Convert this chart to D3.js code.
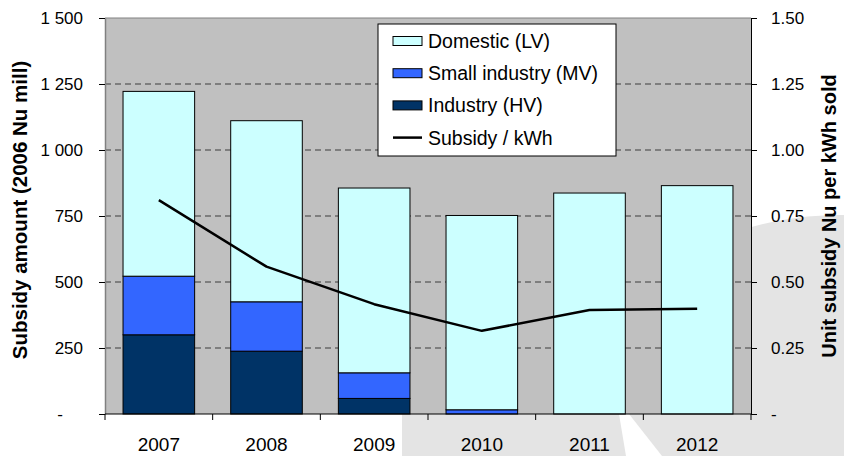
<!DOCTYPE html>
<html>
<head>
<meta charset="utf-8">
<script src="https://cdn.jsdelivr.net/npm/d3@7"></script>
<style>
  body { margin: 0; background: #fff; }
  svg { display: block; font-family: "Liberation Sans", Arial, sans-serif; }
</style>
</head>
<body>
<div class="graph"></div>
<script>
// chart values
var years = ['2007', '2008', '2009', '2010', '2011', '2012']
var industryHV = [300, 238, 59, 0, 0, 0]
var smallIndustryMV = [222, 187, 97, 16, 0, 0]
var domesticLV = [700, 686, 700, 736, 837, 865]
var subsidyPerKwh = [0.81, 0.558, 0.416, 0.315, 0.394, 0.399]
var leftTicks = [0, 250, 500, 750, 1000, 1250, 1500]
var rightTicks = [0, 0.25, 0.5, 0.75, 1.0, 1.25, 1.5]

var series = [
    {key: 'hv', name: 'Industry (HV)', color: '#003366', values: industryHV},
    {key: 'mv', name: 'Small industry (MV)', color: '#3366ff', values: smallIndustryMV},
    {key: 'lv', name: 'Domestic (LV)', color: '#ccffff', values: domesticLV}
]

var width = 844,
    height = 456
var plot = {left: 105, right: 751, top: 18, bottom: 414}

var svg = d3.select('.graph').append('svg')
    .attr('width', width)
    .attr('height', height)

// faint logo watermark behind the chart
var wm = svg.append('g').attr('fill', '#e4e4e4')
wm.append('circle').attr('cx', 840).attr('cy', 545).attr('r', 330)
wm.append('rect').attr('x', 402).attr('y', 414).attr('width', 442).attr('height', 42)
svg.append('path')
    .attr('d', 'M619,414 L629,414 L662,456 L626,456 Z')
    .attr('fill', '#fff')

var x = d3.scaleBand()
    .domain(years)
    .range([plot.left, plot.right])
    .paddingInner(0.335)
    .paddingOuter(0.1675)

var y = d3.scaleLinear()
    .domain([0, 1500])
    .range([plot.bottom, plot.top])

var y2 = d3.scaleLinear()
    .domain([0, 1.5])
    .range([plot.bottom, plot.top])

// plot background
svg.append('rect')
    .attr('x', plot.left)
    .attr('y', plot.top)
    .attr('width', plot.right - plot.left)
    .attr('height', plot.bottom - plot.top)
    .attr('fill', '#c0c0c0')

// dashed gridlines
svg.append('g')
    .selectAll('line')
    .data(leftTicks.filter(function(d) { return d > 0 && d < 1500 }))
    .join('line')
    .attr('x1', plot.left)
    .attr('x2', plot.right)
    .attr('y1', function(d) { return y(d) })
    .attr('y2', function(d) { return y(d) })
    .attr('stroke', '#3c3c3c')
    .attr('stroke-width', 1)
    .attr('stroke-dasharray', '6,4')

svg.append('line')
    .attr('x1', plot.left).attr('x2', plot.right)
    .attr('y1', y(1500)).attr('y2', y(1500))
    .attr('stroke', '#808080')

// stacked bars
var table = years.map(function(yr, i) {
    var row = {year: yr}
    series.forEach(function(s) { row[s.key] = s.values[i] })
    return row
})
var stack = d3.stack().keys(series.map(function(s) { return s.key }))(table)

svg.append('g')
    .selectAll('g')
    .data(stack)
    .join('g')
    .attr('fill', function(d, i) { return series[i].color })
    .selectAll('rect')
    .data(function(d) { return d.filter(function(p) { return p[1] - p[0] > 0 }) })
    .join('rect')
    .attr('x', function(d) { return x(d.data.year) })
    .attr('width', x.bandwidth())
    .attr('y', function(d) { return y(d[1]) })
    .attr('height', function(d) { return y(d[0]) - y(d[1]) })
    .attr('stroke', '#000')
    .attr('stroke-width', 1)

// subsidy per kWh line
var line = d3.line()
    .x(function(d, i) { return x(years[i]) + x.bandwidth() / 2 })
    .y(function(d) { return y2(d) })

svg.append('path')
    .datum(subsidyPerKwh)
    .attr('d', line)
    .attr('fill', 'none')
    .attr('stroke', '#000')
    .attr('stroke-width', 2.5)
    .attr('stroke-linejoin', 'round')

// axes
var spaced = d3.formatLocale({decimal: '.', thousands: ' ', grouping: [3], currency: ['', '']}).format(',.0f')

var leftAxis = svg.append('g')
    .attr('transform', `translate(${plot.left},0)`)
    .call(d3.axisLeft(y)
        .tickValues(leftTicks)
        .tickSize(6)
        .tickSizeOuter(0)
        .tickPadding(16)
        .tickFormat(function(d) { return d === 0 ? '-' : spaced(d) }))
leftAxis.select('.domain').attr('stroke', '#808080').attr('stroke-width', 1.5)
leftAxis.selectAll('.tick line').attr('stroke', '#000')
leftAxis.selectAll('.tick text')
    .attr('font-size', 17)
    .attr('fill', '#000')
    .attr('font-family', null)
    .filter(function(d) { return d === 0 })
    .attr('x', -42)

var rightAxis = svg.append('g')
    .attr('transform', `translate(${plot.right},0)`)
    .call(d3.axisRight(y2)
        .tickValues(rightTicks)
        .tickSize(6)
        .tickSizeOuter(0)
        .tickPadding(14)
        .tickFormat(function(d) { return d === 0 ? '-' : d3.format('.2f')(d) }))
rightAxis.select('.domain').attr('stroke', '#000')
rightAxis.selectAll('.tick line').attr('stroke', '#000')
rightAxis.selectAll('.tick text')
    .attr('font-size', 17)
    .attr('fill', '#000')
    .attr('font-family', null)

// category axis: ticks between categories, labels centred
var bottom = svg.append('g')
bottom.append('line')
    .attr('x1', plot.left).attr('x2', plot.right)
    .attr('y1', plot.bottom).attr('y2', plot.bottom)
    .attr('stroke', '#000')
bottom.selectAll('.sep')
    .data(d3.range(years.length + 1))
    .join('line')
    .attr('class', 'sep')
    .attr('x1', function(i) { return x.range()[0] + i * x.step() })
    .attr('x2', function(i) { return x.range()[0] + i * x.step() })
    .attr('y1', plot.bottom)
    .attr('y2', plot.bottom + 6)
    .attr('stroke', '#000')
bottom.selectAll('text')
    .data(years)
    .join('text')
    .attr('x', function(d) { return x(d) + x.bandwidth() / 2 })
    .attr('y', 451)
    .attr('text-anchor', 'middle')
    .attr('font-size', 19)
    .text(function(d) { return d })

// axis titles
svg.append('text')
    .attr('transform', 'translate(27,210) rotate(-90)')
    .attr('text-anchor', 'middle')
    .attr('font-size', 20.5)
    .attr('font-weight', 'bold')
    .text('Subsidy amount (2006 Nu mill)')

svg.append('text')
    .attr('transform', 'translate(836,216) rotate(-90)')
    .attr('text-anchor', 'middle')
    .attr('font-size', 20)
    .attr('font-weight', 'bold')
    .text('Unit subsidy Nu per kWh sold')

// legend
var legend = svg.append('g').attr('transform', 'translate(378,24)')
legend.append('rect')
    .attr('width', 238)
    .attr('height', 132)
    .attr('fill', '#fff')
    .attr('stroke', '#000')

var legendItems = series.slice().reverse().concat([{name: 'Subsidy / kWh', line: true}])
var item = legend.selectAll('.item')
    .data(legendItems)
    .join('g')
    .attr('class', 'item')
    .attr('transform', function(d, i) { return `translate(15,${17 + i * 32.2})` })
item.filter(function(d) { return !d.line })
    .append('rect')
    .attr('x', 0)
    .attr('y', -4.5)
    .attr('width', 29)
    .attr('height', 9)
    .attr('fill', function(d) { return d.color })
    .attr('stroke', '#000')
item.filter(function(d) { return d.line })
    .append('line')
    .attr('x1', 0).attr('x2', 29)
    .attr('stroke', '#000')
    .attr('stroke-width', 2.5)
item.append('text')
    .attr('x', 35)
    .attr('y', 7)
    .attr('font-size', 19.5)
    .text(function(d) { return d.name })
</script>
</body>
</html>
